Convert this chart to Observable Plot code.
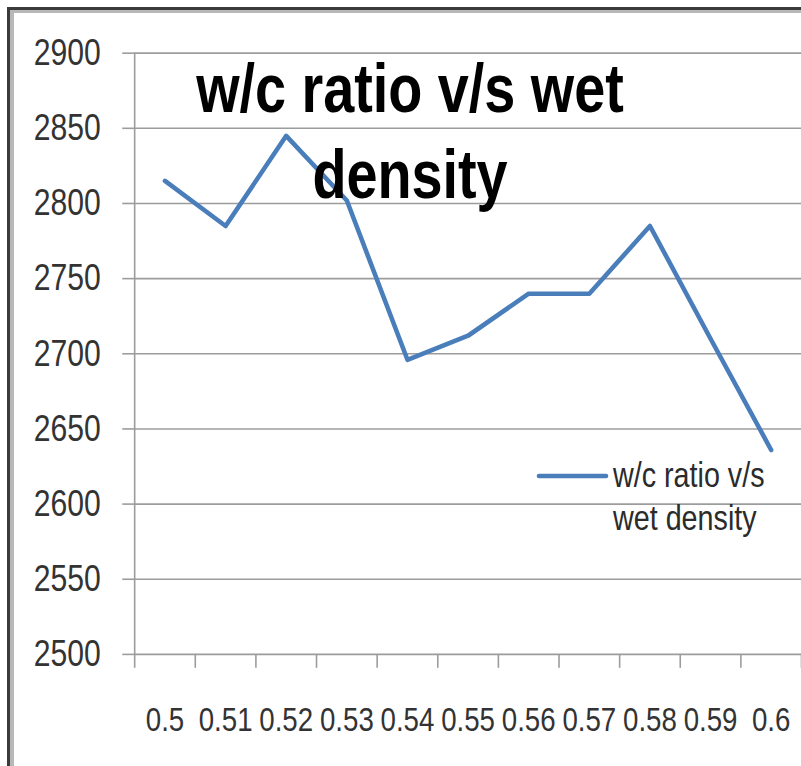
<!DOCTYPE html>
<html>
<head>
<meta charset="utf-8">
<script src="https://cdn.jsdelivr.net/npm/d3@7"></script>
<script src="https://cdn.jsdelivr.net/npm/@observablehq/plot@0.6"></script>
<style>
  html, body { margin: 0; padding: 0; background: #fff; overflow: hidden; }
  #wrap { position: relative; width: 801px; height: 766px; overflow: hidden; background: #fff; }
  #wrap > svg.overlay { position: absolute; left: 0; top: 0; pointer-events: none; }
  .frameOuter { position: absolute; left: 7px; top: 7px; width: 900px; height: 900px;
    border-left: 3px solid #3a3a3a; border-top: 3px solid #3a3a3a; }
  .frameInner { position: absolute; left: 10px; top: 10px; width: 900px; height: 900px;
    border-left: 4px solid #b8b8b8; border-top: 3px solid #b8b8b8; }
</style>
</head>
<body>
<div id="wrap"></div>
<script>
// ---- data ----
const ratios = ["0.5", "0.51", "0.52", "0.53", "0.54", "0.55", "0.56", "0.57", "0.58", "0.59", "0.6"];
const wetDensity = [2815, 2785, 2845, 2802, 2696, 2712, 2740, 2740, 2785, 2710, 2636];
const yTicks = [2500, 2550, 2600, 2650, 2700, 2750, 2800, 2850, 2900];
const seriesName = "w/c ratio v/s wet density";
const titleLines = ["w/c ratio v/s wet", "density"];
const legendLines = ["w/c ratio v/s", "wet density"];

const rows = ratios.map((r, i) => ({i, ratio: r, density: wetDensity[i]}));

function fontAvailable(name) {
  const c = document.createElement("canvas").getContext("2d");
  const s = "0.510.52 w/c ratio density";
  c.font = "40px monospace"; const a = c.measureText(s).width;
  c.font = `40px "${name}", monospace`; const b = c.measureText(s).width;
  return Math.abs(a - b) > 0.5;
}
const narrow = fontAvailable("Liberation Sans Narrow");
const family = narrow ? '"Liberation Sans Narrow", "Liberation Sans", sans-serif' : '"Liberation Sans", Arial, sans-serif';

const gridColor = "#9c9c9c";
const lineColor = "#4a7ebb";

const wrap = document.getElementById("wrap");
wrap.insertAdjacentHTML("beforeend", '<div class="frameOuter"></div><div class="frameInner"></div>');

const boundaries = d3.range(ratios.length + 1).map(i => i - 0.5);

const chart = Plot.plot({
  width: 806,
  height: 766,
  marginLeft: 135,
  marginRight: 0,
  marginTop: 53,
  marginBottom: 108,
  style: {fontFamily: family, fontSize: "34px", color: "#333", background: "transparent", overflow: "hidden"},
  x: {type: "linear", domain: [-0.5, ratios.length - 0.5]},
  y: {domain: [2500, 2900]},
  marks: [
    Plot.gridY(yTicks, {stroke: gridColor, strokeOpacity: 1, strokeWidth: 1.6}),
    Plot.ruleX([-0.5], {stroke: gridColor, strokeWidth: 1.6}),
    Plot.axisY(yTicks, {tickSize: 12, tickPadding: 22, stroke: gridColor, strokeWidth: 1.6, label: null, fill: "#333", fontSize: 37, tickFormat: d => String(d)}),
    Plot.axisX(boundaries, {tickSize: 14, tickFormat: () => "", stroke: gridColor, strokeWidth: 1.6, label: null}),
    Plot.axisX(d3.range(ratios.length), {tickSize: 0, tickPadding: 53, tickFormat: i => ratios[i], label: null, fill: "#333"}),
    Plot.line(rows, {x: "i", y: "density", stroke: lineColor, strokeWidth: 4.6, title: () => seriesName})
  ]
});
chart.style.position = "absolute";
chart.style.left = "0px";
chart.style.top = "0px";
wrap.appendChild(chart);

// overlay: chart title and legend
const ns = "http://www.w3.org/2000/svg";
const ov = d3.select(wrap).append("svg")
  .attr("class", "overlay")
  .attr("xmlns", ns)
  .attr("width", 801).attr("height", 766);

const title = ov.append("g")
  .attr("font-family", family)
  .attr("font-weight", "bold")
  .attr("font-size", 68)
  .attr("fill", "#000")
  .attr("text-anchor", "middle");
title.selectAll("text").data(titleLines).join("text")
  .attr("x", 410)
  .attr("y", (d, k) => 112 + k * 86)
  .text(d => d);

const legend = ov.append("g");
legend.append("line")
  .attr("x1", 539).attr("x2", 606).attr("y1", 476).attr("y2", 476)
  .attr("stroke", lineColor).attr("stroke-width", 4.6).attr("stroke-linecap", "round");
legend.append("g")
  .attr("font-family", family)
  .attr("font-size", 35)
  .attr("fill", "#2b2b2b")
  .selectAll("text").data(legendLines).join("text")
  .attr("x", 613)
  .attr("y", (d, k) => 487 + k * 43)
  .text(d => d);

// If no narrow font is installed, condense glyphs horizontally to mimic it
if (!narrow) {
  for (const svg of wrap.querySelectorAll("svg")) {
    for (const t of svg.querySelectorAll("text")) {
      if (!t.textContent) continue;
      const w = t.getComputedTextLength();
      if (w > 0) {
        t.setAttribute("textLength", (w * 0.82).toFixed(1));
        t.setAttribute("lengthAdjust", "spacingAndGlyphs");
      }
    }
  }
}
</script>
</body>
</html>
